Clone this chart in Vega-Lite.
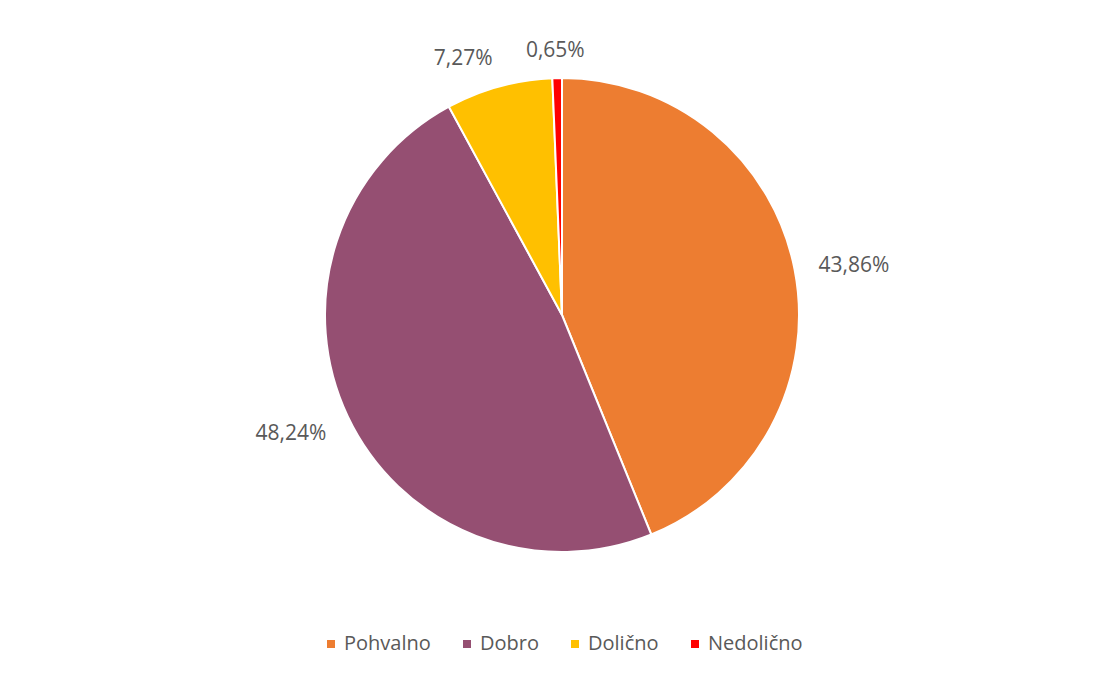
{
  "$schema": "https://vega.github.io/schema/vega-lite/v6.json",
  "width": 1104,
  "height": 610,
  "padding": {"left": 10, "top": 10, "right": 0, "bottom": 0},
  "background": "white",
  "config": {
    "view": {"stroke": null},
    "font": "Open Sans",
    "legend": {"layout": {"bottom": {"anchor": "middle"}}},
    "locale": {"number": {"decimal": ",", "thousands": ".", "grouping": [3], "currency": ["", " €"]}}
  },
  "data": {
    "values": [
      {"rank": 1, "ocena": "Pohvalno", "delez": 0.4386},
      {"rank": 2, "ocena": "Dobro", "delez": 0.4824},
      {"rank": 3, "ocena": "Dolično", "delez": 0.0727},
      {"rank": 4, "ocena": "Nedolično", "delez": 0.0065}
    ]
  },
  "encoding": {
    "theta": {"field": "delez", "type": "quantitative", "stack": true},
    "order": {"field": "rank", "type": "quantitative", "sort": "ascending"}
  },
  "layer": [
    {
      "mark": {"type": "arc", "outerRadius": 237, "stroke": "white", "strokeWidth": 2},
      "encoding": {
        "color": {
          "field": "ocena",
          "type": "nominal",
          "sort": ["Pohvalno", "Dobro", "Dolično", "Nedolično"],
          "scale": {
            "domain": ["Pohvalno", "Dobro", "Dolično", "Nedolično"],
            "range": ["#ED7D31", "#954F72", "#FFC000", "#FF0000"]
          },
          "legend": {
            "title": null,
            "orient": "bottom",
            "direction": "horizontal",
            "symbolType": "square",
            "symbolSize": 64,
            "symbolStrokeWidth": 0,
            "labelFont": "Open Sans",
            "labelFontSize": 20,
            "labelColor": "#595959",
            "labelOffset": 3,
            "labelLimit": 300,
            "columnPadding": 26,
            "offset": 14
          }
        }
      }
    },
    {
      "mark": {
        "type": "text",
        "font": "Open Sans",
        "fontSize": 21,
        "color": "#595959",
        "align": "center",
        "baseline": "middle",
        "radius": {"expr": "datum.rank == 3 ? 274 : (datum.rank == 4 ? 264 : 296)"},
        "thetaOffset": {"expr": "datum.rank == 3 ? -0.1 : (datum.rank == 4 ? -0.005 : 0.028)"}
      },
      "encoding": {
        "text": {"field": "delez", "type": "quantitative", "format": ".2%"}
      }
    }
  ]
}
